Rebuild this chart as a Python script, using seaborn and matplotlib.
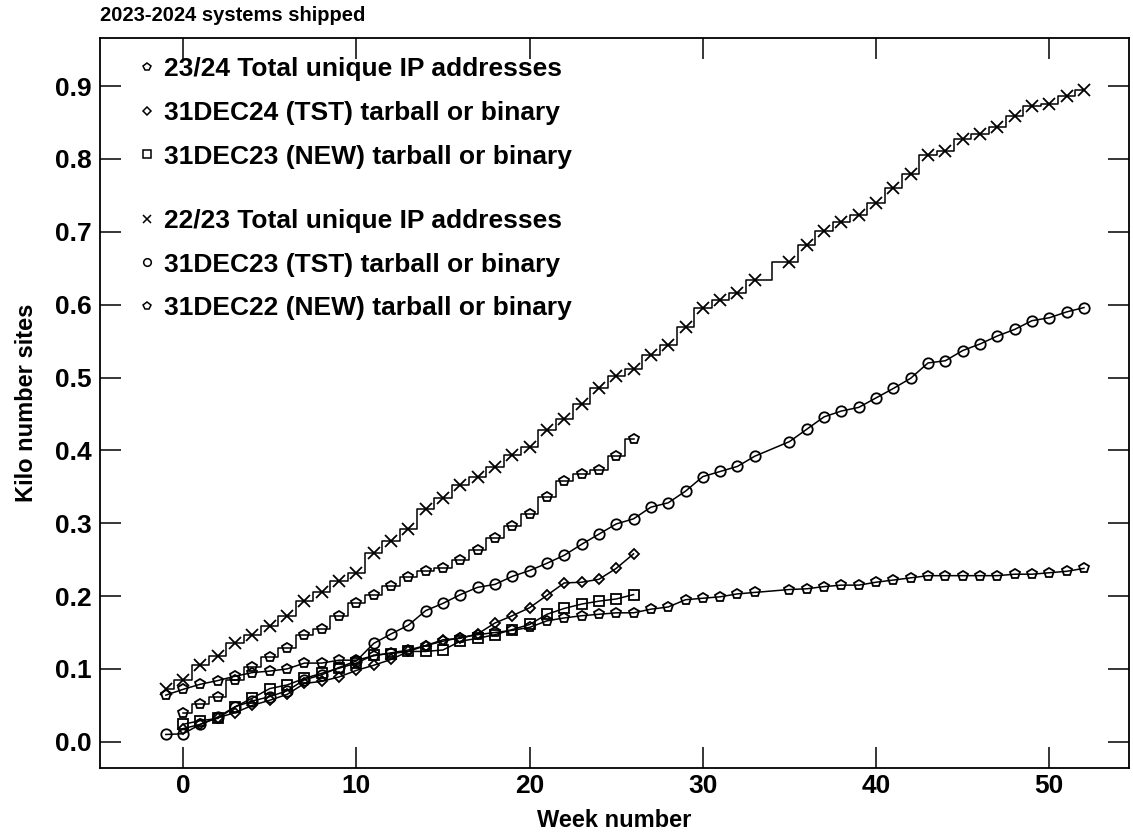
import matplotlib
matplotlib.use("Agg")
import matplotlib.pyplot as plt
from matplotlib.lines import Line2D
import seaborn as sns

# Week numbers (week 34 missing in the long series)
weeks_long = list(range(-1, 34)) + list(range(35, 53))
weeks_short = list(range(0, 27))

# 22/23 Total unique IP addresses (x, stepped)
total_2223 = [0.072, 0.085, 0.105, 0.118, 0.135, 0.147, 0.159, 0.172, 0.193, 0.205,
              0.220, 0.231, 0.259, 0.276, 0.292, 0.319, 0.335, 0.352, 0.364, 0.377,
              0.393, 0.404, 0.428, 0.443, 0.464, 0.485, 0.502, 0.511, 0.531, 0.544,
              0.570, 0.595, 0.607, 0.616, 0.634,
              0.659, 0.682, 0.701, 0.714, 0.723, 0.740, 0.760, 0.779, 0.805, 0.811,
              0.827, 0.834, 0.844, 0.859, 0.872, 0.876, 0.886, 0.895]

# 31DEC23 (TST) tarball or binary (circles)
tst_23 = [0.010, 0.011, 0.024, 0.034, 0.048, 0.056, 0.062, 0.070, 0.085, 0.092,
          0.102, 0.111, 0.135, 0.148, 0.160, 0.180, 0.190, 0.202, 0.212, 0.216,
          0.227, 0.235, 0.245, 0.256, 0.271, 0.285, 0.299, 0.306, 0.322, 0.328,
          0.344, 0.364, 0.371, 0.378, 0.392,
          0.412, 0.429, 0.446, 0.454, 0.459, 0.472, 0.485, 0.499, 0.520, 0.523,
          0.537, 0.546, 0.557, 0.566, 0.578, 0.582, 0.590, 0.596]

# 31DEC22 (NEW) tarball or binary (pentagons)
new_22 = [0.064, 0.072, 0.079, 0.084, 0.090, 0.095, 0.097, 0.100, 0.108, 0.108,
          0.112, 0.112, 0.118, 0.122, 0.126, 0.132, 0.138, 0.143, 0.147, 0.150,
          0.153, 0.157, 0.166, 0.170, 0.173, 0.175, 0.177, 0.177, 0.182, 0.185,
          0.195, 0.197, 0.199, 0.203, 0.205,
          0.209, 0.210, 0.213, 0.215, 0.215, 0.219, 0.222, 0.225, 0.228, 0.228,
          0.228, 0.228, 0.228, 0.230, 0.230, 0.232, 0.234, 0.238]

# 23/24 Total unique IP addresses (pentagons, stepped)
total_2324 = [0.040, 0.052, 0.062, 0.085, 0.102, 0.117, 0.129, 0.147, 0.155, 0.172,
              0.190, 0.201, 0.214, 0.226, 0.234, 0.238, 0.250, 0.263, 0.280, 0.296,
              0.312, 0.336, 0.358, 0.367, 0.373, 0.392, 0.416]

# 31DEC24 (TST) tarball or binary (diamonds)
tst_24 = [0.018, 0.024, 0.033, 0.040, 0.050, 0.057, 0.065, 0.080, 0.083, 0.089,
          0.098, 0.105, 0.113, 0.124, 0.132, 0.140, 0.142, 0.148, 0.163, 0.173,
          0.184, 0.201, 0.218, 0.219, 0.223, 0.238, 0.258]

# 31DEC23 (NEW) tarball or binary (squares)
new_23 = [0.024, 0.029, 0.032, 0.048, 0.060, 0.073, 0.078, 0.087, 0.094, 0.101,
          0.108, 0.119, 0.121, 0.124, 0.124, 0.126, 0.138, 0.142, 0.147, 0.154,
          0.161, 0.175, 0.183, 0.189, 0.193, 0.196, 0.202]

labels_top = ["23/24 Total unique IP addresses",
              "31DEC24 (TST) tarball or binary",
              "31DEC23 (NEW) tarball or binary"]
labels_bottom = ["22/23 Total unique IP addresses",
                 "31DEC23 (TST) tarball or binary",
                 "31DEC22 (NEW) tarball or binary"]

plt.rcParams["font.family"] = ["Liberation Sans", "DejaVu Sans"]
plt.rcParams["font.weight"] = "bold"

fig = plt.figure(figsize=(11.33, 8.33), dpi=100)
ax = fig.add_axes([100 / 1133, 1 - 768 / 833, 1029 / 1133, 730 / 833])

series = [
    (weeks_long, total_2223, "x", 9, "steps-mid"),
    (weeks_long, tst_23, "o", 7.5, "default"),
    (weeks_long, new_22, "p", 7.5, "default"),
    (weeks_short, total_2324, "p", 7.5, "steps-mid"),
    (weeks_short, tst_24, "D", 5.5, "default"),
    (weeks_short, new_23, "s", 7, "default"),
]
for xs, ys, mk, ms, ds in series:
    sns.lineplot(x=xs, y=ys, ax=ax, color="black", linewidth=1.1,
                 marker=mk, markersize=ms, markerfacecolor="none",
                 markeredgecolor="black", markeredgewidth=1.3,
                 drawstyle=ds, estimator=None, sort=False)

ax.set_xlim(-4.8, 54.6)
ax.set_ylim(-0.036, 0.966)
ax.set_xticks([0, 10, 20, 30, 40, 50])
ax.set_yticks([0.0, 0.1, 0.2, 0.3, 0.4, 0.5, 0.6, 0.7, 0.8, 0.9])
ax.set_yticklabels([f"{v:.1f}" for v in ax.get_yticks()])
ax.tick_params(direction="in", length=15, width=1.1, top=True, right=True,
               labelsize=19, pad=6)
ax.tick_params(axis="x", pad=4)
for sp in ax.spines.values():
    sp.set_linewidth(1.3)

ax.set_xlabel("Week number", fontsize=17, fontweight="bold", labelpad=8)
ax.set_ylabel("Kilo number sites", fontsize=17, fontweight="bold", labelpad=12)
ax.set_title("2023-2024 systems shipped", loc="left", fontsize=14.5,
             fontweight="bold", pad=12)

def make_handles(markers):
    return [Line2D([], [], linestyle="none", marker=m, markersize=s,
                   markerfacecolor="none", markeredgecolor="black",
                   markeredgewidth=1.1) for m, s in markers]

leg_kw = dict(loc="upper left", frameon=False, handlelength=0.6,
              handletextpad=0.35, labelspacing=0.75, borderpad=0,
              borderaxespad=0, prop={"size": 19, "weight": "bold"})
leg1 = ax.legend(make_handles([("p", 5.5), ("D", 4), ("s", 5.5)]), labels_top,
                 bbox_to_anchor=(0.038, 0.974), **leg_kw)
ax.add_artist(leg1)
ax.legend(make_handles([("x", 5.5), ("o", 5.5), ("p", 5.5)]), labels_bottom,
          bbox_to_anchor=(0.038, 0.766), **leg_kw)

fig.savefig("out.png", dpi=100)
